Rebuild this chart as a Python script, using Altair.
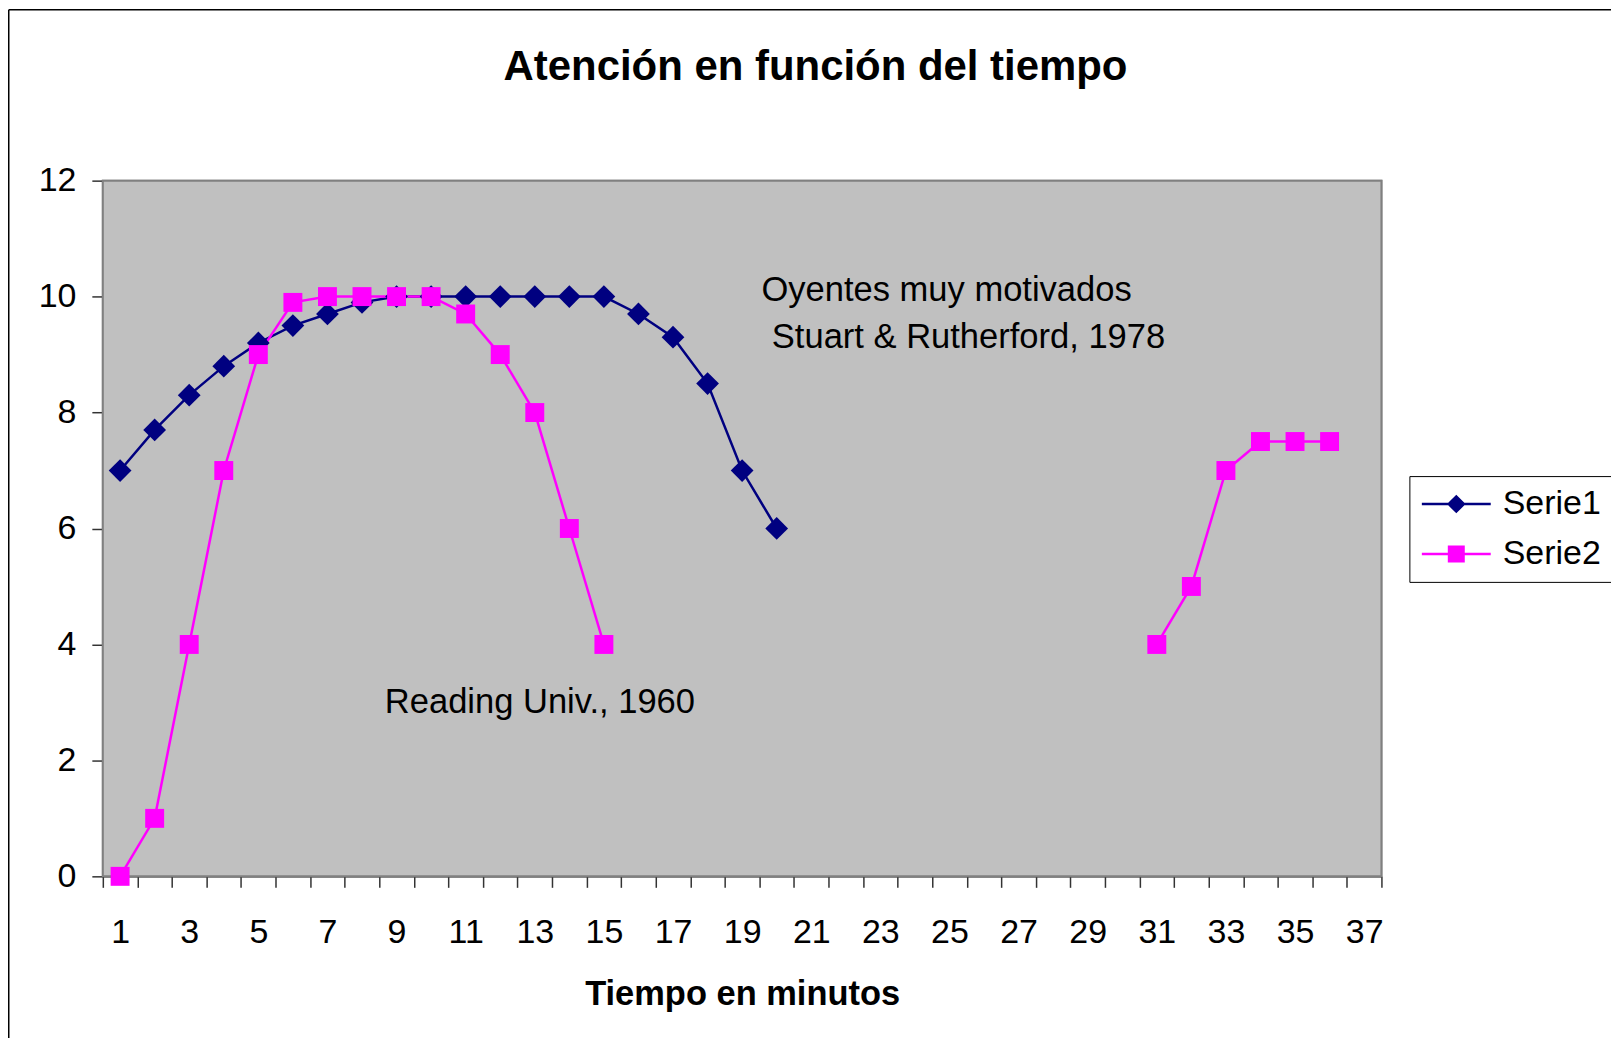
import altair as alt
import pandas as pd

FONT = "Liberation Sans"

title_text = "Atención en función del tiempo"
x_title = "Tiempo en minutos"
series_names = ["Serie1", "Serie2"]
series_colors = ["#000080", "#FF00FF"]

minutes = list(range(1, 38))
serie1 = [7.0, 7.7, 8.3, 8.8, 9.2, 9.5, 9.7, 9.9, 10, 10, 10, 10, 10, 10, 10,
          9.7, 9.3, 8.5, 7.0, 6.0] + [None] * 17
serie2 = [0, 1, 4, 7, 9.0, 9.9, 10, 10, 10, 10, 9.7, 9.0, 8.0, 6.0, 4.0] + [None] * 15 + \
         [4, 5, 7, 7.5, 7.5, 7.5] + [None]

y_ticks = [0, 2, 4, 6, 8, 10, 12]

ann_text = ["Oyentes muy motivados", "Stuart & Rutherford, 1978", "Reading Univ., 1960"]
ann_x = [19.56, 19.86, 8.66]
ann_y = [9.93, 9.11, 2.815]

# long table with path segments (gaps break the line)
rows = []
for name, vals in zip(series_names, [serie1, serie2]):
    seg = 0
    gap = False
    seen = False
    for m, v in zip(minutes, vals):
        if v is None:
            gap = True
            continue
        if gap and seen:
            seg += 1
        gap = False
        seen = True
        rows.append({"minute": m, "value": v, "series": name, "segment": f"{name}-{seg}"})
df = pd.DataFrame(rows)
ann = pd.DataFrame({"text": ann_text, "x": ann_x, "y": ann_y})

W, H = 1281, 697
PAD_L, PAD_T = 95, 172

y_scale = alt.Scale(domain=[0, 12], nice=False, zero=True)
y_axis = alt.Axis(values=y_ticks, grid=False, title=None, tickSize=11, labelPadding=16,
                  labelFontSize=34, labelFont=FONT, labelColor="black",
                  domainColor="#333333", tickColor="#333333", domainWidth=1.5, tickWidth=1.5)
y_enc = alt.Y("value:Q", scale=y_scale, axis=y_axis)

x_scale = alt.Scale(type="band", domain=minutes, paddingInner=0, paddingOuter=0)
x_axis = alt.Axis(title=x_title, tickBand="extent", labelAngle=0, labelOverlap=False,
                  labelExpr="datum.value % 2 == 1 ? datum.label : ''",
                  tickSize=11, labelPadding=28, labelFontSize=34, labelFont=FONT,
                  labelColor="black", titleFontSize=34.5, titleFont=FONT, titleFontWeight="bold",
                  titleColor="black", titleY=128, titleBaseline="alphabetic",
                  domainColor="#333333", tickColor="#333333", domainWidth=1.5, tickWidth=1.5)
x_enc = alt.X("minute:O", scale=x_scale, bandPosition=0.5, axis=x_axis)

color_scale = alt.Scale(domain=series_names, range=series_colors)

one = alt.Data(values=[{}])
plot_bg = alt.Chart(one).mark_rect(fill="#C0C0C0", stroke="#808080", strokeWidth=2).encode(
    x=alt.value(0), x2=alt.value(W), y=alt.value(0), y2=alt.value(H))

lines = alt.Chart(df).mark_line(strokeWidth=2.5).encode(
    x=x_enc, y=y_enc,
    color=alt.Color("series:N", scale=color_scale, legend=None),
    detail="segment:N",
)

points = alt.Chart(df).mark_point(filled=True, opacity=1).encode(
    x=x_enc, y=y_enc,
    color=alt.Color("series:N", scale=color_scale, legend=None),
    shape=alt.Shape("series:N", scale=alt.Scale(domain=series_names, range=["diamond", "square"]),
                    legend=None),
    size=alt.Size("series:N", scale=alt.Scale(domain=series_names, range=[520, 360]), legend=None),
)

legend_paths = [
    "M-4.06,-0.15H4.06V0.15H-4.06Z M-1.1,0L0,-1.1L1.1,0L0,1.1Z",
    "M-4.06,-0.15H4.06V0.15H-4.06Z M-1,-1H1V1H-1Z",
]
leg = alt.Legend(title=None, orient="none", legendX=1309, legendY=296, padding=11,
                 strokeColor="black", fillColor="white", labelFontSize=34, labelFont=FONT,
                 labelColor="black", symbolSize=289, symbolOffset=19, labelOffset=29.5,
                 rowPadding=16, symbolStrokeWidth=0, labelLimit=0)
legend_layer = alt.Chart(df).transform_filter("false").mark_point(
    filled=True, opacity=1, size=289).encode(
    color=alt.Color("series:N", scale=color_scale, legend=leg),
    shape=alt.Shape("series:N", scale=alt.Scale(domain=series_names, range=legend_paths), legend=leg),
)

inner = alt.layer(lines, points, legend_layer).resolve_scale(
    color="independent", shape="independent")

annotations = alt.Chart(ann).mark_text(align="left", baseline="alphabetic", fontSize=34.6,
                                       font=FONT, color="black").encode(
    x=alt.X("x:Q", scale=alt.Scale(domain=[0.5, 37.5], nice=False, zero=False), axis=None),
    y=alt.Y("y:Q", scale=y_scale, axis=y_axis),
    text="text:N",
)

title_mark = alt.Chart(one).mark_text(text=title_text, fontSize=42, fontWeight="bold", font=FONT,
                                      color="black", align="center", baseline="alphabetic").encode(
    x=alt.value(714), y=alt.value(-101))
border_top = alt.Chart(one).mark_rule(color="black", strokeWidth=1.5).encode(
    x=alt.value(-PAD_L + 0.75), x2=alt.value(1512), y=alt.value(-PAD_T + 0.75))
border_left = alt.Chart(one).mark_rule(color="black", strokeWidth=1.5).encode(
    x=alt.value(-PAD_L + 0.75), y=alt.value(-PAD_T + 0.75), y2=alt.value(859))

chart = alt.layer(plot_bg, inner, annotations, title_mark, border_top, border_left).resolve_scale(
    x="independent"
).properties(
    width=W, height=H,
    autosize=alt.AutoSizeParams(type="none"),
    padding={"left": PAD_L, "top": PAD_T, "right": 1606 - PAD_L - W, "bottom": 162},
    background="white",
).configure_view(fill="#C0C0C0", stroke="#808080", strokeWidth=2)

chart.save("out.html", embed_options={"renderer": "svg", "actions": False})
